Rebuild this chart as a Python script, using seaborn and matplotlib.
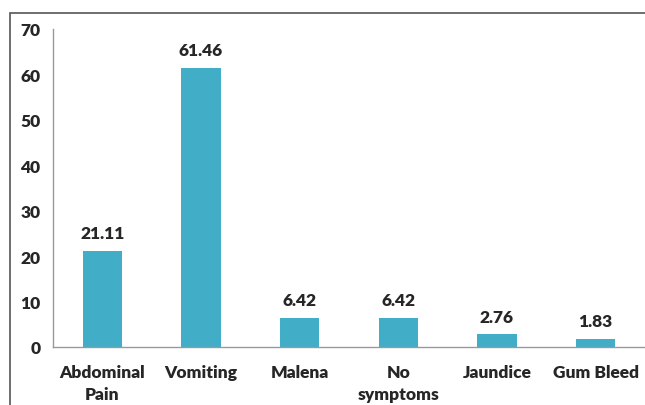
import matplotlib
matplotlib.use("Agg")
import matplotlib.pyplot as plt
import seaborn as sns
import pandas as pd
from matplotlib.patches import Rectangle

categories = ["Abdominal\nPain", "Vomiting", "Malena", "No\nsymptoms", "Jaundice", "Gum Bleed"]
values = [21.11, 61.46, 6.42, 6.42, 2.76, 1.83]
value_labels = ["21.11", "61.46", "6.42", "6.42", "2.76", "1.83"]
y_ticks = [0, 10, 20, 30, 40, 50, 60, 70]

sns.set_style("white")
plt.rcParams['font.family'] = ['Lato', 'DejaVu Sans']

df = pd.DataFrame({"cat": categories, "val": values})

fig = plt.figure(figsize=(6.45, 4.06), dpi=100)
ax = fig.add_axes([53/645, 1 - 348/406, 1 - 53/645, (348 - 30)/406])

sns.barplot(data=df, x="cat", y="val", color="#41ADC7", width=0.4, ax=ax,
            saturation=1, edgecolor="none")

FS = 12.5
ax.set_ylim(0, 70)
ax.set_xlim(-0.5, 5.5)
ax.set_yticks(y_ticks)
ax.set_yticklabels([str(t) for t in y_ticks], fontsize=FS, fontweight="heavy")
ax.set_xticks(range(len(categories)))
ax.set_xticklabels(categories, fontsize=FS, fontweight="heavy", linespacing=1.45)
ax.set_xticks([i - 0.5 for i in range(len(categories) + 1)], minor=True)
ax.tick_params(axis="x", which="major", length=0, pad=12)
ax.tick_params(axis="x", which="minor", length=6, color="#999999", width=1)
ax.tick_params(axis="y", length=5, color="#999999", width=1, pad=4)
ax.set_xlabel("")
ax.set_ylabel("")

for s in ["top", "right"]:
    ax.spines[s].set_visible(False)
for s in ["left", "bottom"]:
    ax.spines[s].set_color("#999999")
    ax.spines[s].set_linewidth(1)

for i, (v, lab) in enumerate(zip(values, value_labels)):
    ax.annotate(lab, (i, v), xytext=(0, 7), textcoords="offset points",
                ha="center", va="bottom", fontsize=FS, fontweight="heavy")

# outer chart frame (cropped at right and bottom)
fig.patches.append(Rectangle((10/645, -0.1), 1.2, 1.1 - 14/406,
                             transform=fig.transFigure, fill=False,
                             edgecolor="#555555", linewidth=1.2))

fig.savefig("out.png", dpi=100)
